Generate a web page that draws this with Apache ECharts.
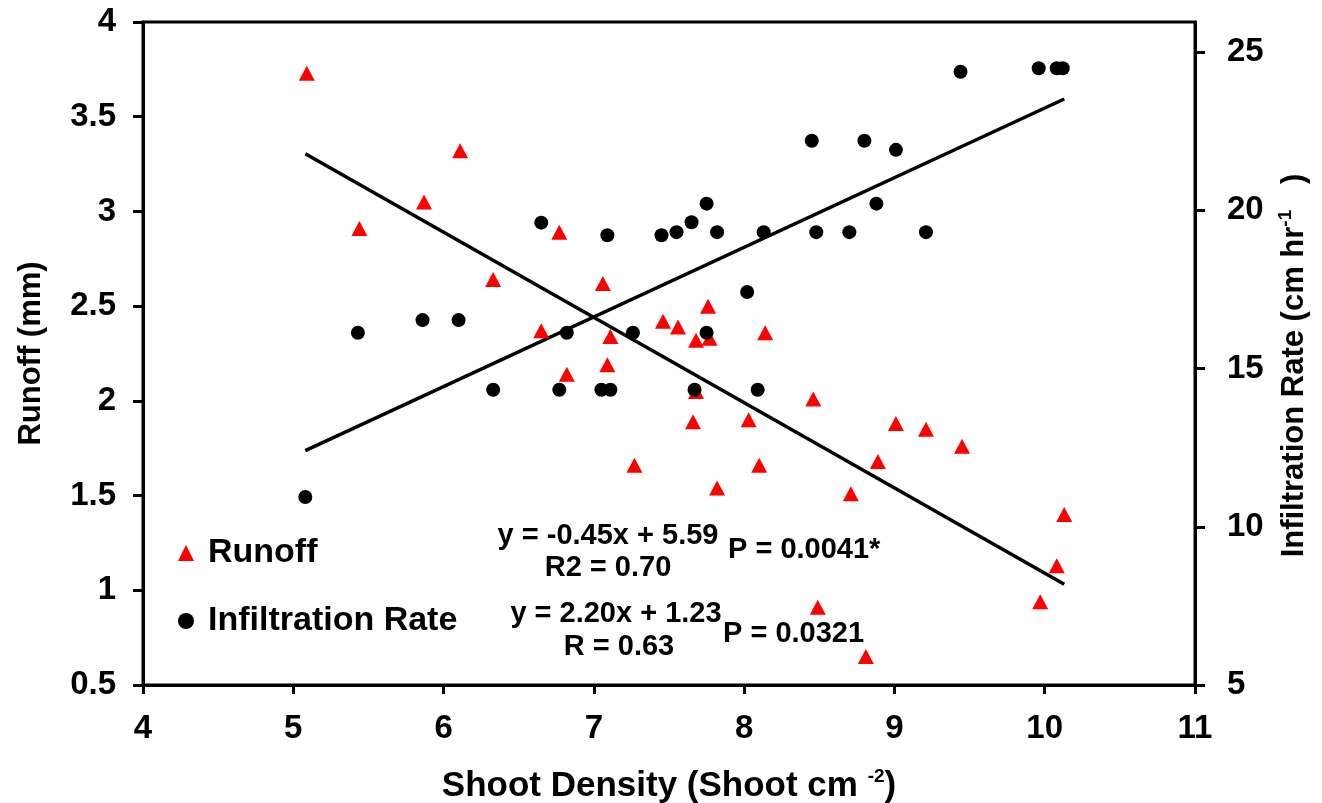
<!DOCTYPE html>
<html>
<head>
<meta charset="utf-8">
<script src="https://cdn.jsdelivr.net/npm/echarts@6/dist/echarts.min.js"></script>
<style>
  html, body { margin: 0; padding: 0; background: #fff; }
  #chart { width: 1322px; height: 803px; }
</style>
</head>
<body>
<div id="chart"></div>
<script>
// Shoot density (shoot cm^-2) and runoff (mm) per plot
const runoffDensity = [5.09, 5.44, 5.87, 6.11, 6.33, 6.65, 6.77, 6.82, 7.06, 7.09, 7.11, 7.27,
  7.46, 7.56, 7.66, 7.68, 7.68, 7.76, 7.77, 7.82, 8.03, 8.10, 8.14, 8.46, 8.49, 8.71,
  8.81, 8.89, 9.01, 9.21, 9.45, 9.97, 10.08, 10.13];
const runoffValues = [3.73, 2.91, 3.05, 3.32, 2.64, 2.37, 2.89, 2.14, 2.62, 2.19, 2.34, 1.66,
  2.42, 2.39, 1.89, 2.32, 2.05, 2.50, 2.33, 1.54, 1.90, 1.66, 2.36, 2.01, 0.91, 1.51,
  0.65, 1.68, 1.88, 1.85, 1.76, 0.94, 1.13, 1.40];

// Shoot density (shoot cm^-2) and infiltration rate (cm hr^-1) per plot
const infilDensity = [5.08, 5.43, 5.86, 6.10, 6.33, 6.65, 6.77, 6.82, 7.05, 7.09, 7.11, 7.26,
  7.45, 7.55, 7.65, 7.67, 7.75, 7.75, 7.82, 8.02, 8.09, 8.13, 8.45, 8.48, 8.70, 8.80,
  8.88, 9.01, 9.21, 9.44, 9.96, 10.08, 10.12];
const infilValues = [10.94, 16.13, 16.53, 16.53, 14.33, 19.61, 14.33, 16.13, 14.33, 19.21, 14.33, 16.13,
  19.21, 19.31, 19.62, 14.33, 20.21, 16.13, 19.31, 17.42, 14.33, 19.31, 22.20, 19.31, 19.31, 22.20,
  20.21, 21.91, 19.31, 24.38, 24.49, 24.49, 24.49];

// Fitted regression lines (slope, intercept)
const runoffFit = [-0.45, 5.59];
const infilFit = [2.20, 1.23];

// Tick values
const densityTicks = [4, 5, 6, 7, 8, 9, 10, 11];
const runoffTicks = [0.5, 1, 1.5, 2, 2.5, 3, 3.5, 4];
const infilTicks = [5, 10, 15, 20, 25];

// Annotation texts
const runoffStats = ['y = -0.45x + 5.59', 'R2 = 0.70', 'P = 0.0041*'];
const infilStats = ['y = 2.20x + 1.23', 'R = 0.63', 'P = 0.0321'];

const FONT = '"Liberation Sans", Arial, Helvetica, sans-serif';

const allDensity = runoffDensity.concat(infilDensity);
const xLo = Math.min.apply(null, allDensity);
const xHi = Math.max.apply(null, allDensity);
const fitLine = (f) => [[xLo, f[0] * xLo + f[1]], [xHi, f[0] * xHi + f[1]]];

const zip = (a, b) => a.map((v, i) => [v, b[i]]);

const axisCommon = {
  type: 'value',
  nameMoveOverlap: false,
  axisLine: { show: true, onZero: false, lineStyle: { color: '#000', width: 3 } },
  axisTick: { show: true, inside: false, length: 10, lineStyle: { color: '#000', width: 3 } },
  splitLine: { show: false },
  nameLocation: 'middle',
  nameTextStyle: {
    color: '#000', fontWeight: 'bold', fontFamily: FONT,
    rich: { sup: { fontSize: 19, fontWeight: 'bold', fontFamily: FONT, color: '#000', verticalAlign: 'top', lineHeight: 20 } }
  }
};

const labelStyle = { color: '#000', fontWeight: 'bold', fontFamily: FONT, fontSize: 33 };

const chart = echarts.init(document.getElementById('chart'), null, { renderer: 'canvas' });

chart.setOption({
  animation: false,
  backgroundColor: '#fff',
  grid: {
    left: 143, right: 127, top: 22, bottom: 118,
    show: true, borderColor: '#000', borderWidth: 3,
    outerBoundsMode: 'none'
  },
  xAxis: Object.assign({}, axisCommon, {
    min: 4, max: 11, interval: 1, position: 'bottom',
    axisTick: Object.assign({}, axisCommon.axisTick, { length: 9, customValues: densityTicks }),
    axisLabel: Object.assign({}, labelStyle, { margin: 27, customValues: densityTicks }),
    name: 'Shoot Density (Shoot cm {sup|-2})',
    nameGap: 82,
    nameTextStyle: Object.assign({}, axisCommon.nameTextStyle, { fontSize: 35, lineHeight: 38 })
  }),
  yAxis: [
    Object.assign({}, axisCommon, {
      min: 0.5, max: 4, interval: 0.5, position: 'left',
      axisTick: Object.assign({}, axisCommon.axisTick, { customValues: runoffTicks }),
      axisLabel: Object.assign({}, labelStyle, { margin: 27, customValues: runoffTicks }),
      name: 'Runoff (mm)',
      nameGap: 96,
      nameTextStyle: Object.assign({}, axisCommon.nameTextStyle, { fontSize: 31 })
    }),
    Object.assign({}, axisCommon, {
      min: 5, max: 25.95, position: 'right',
      axisTick: Object.assign({}, axisCommon.axisTick, { customValues: infilTicks }),
      axisLabel: Object.assign({}, labelStyle, { margin: 32, customValues: infilTicks }),
      name: 'Infiltration Rate (cm hr{sup|-1}   )',
      nameGap: 81,
      nameTextStyle: Object.assign({}, axisCommon.nameTextStyle, { fontSize: 31, lineHeight: 36, padding: [0, 24, 0, 0] })
    })
  ],
  legend: {
    orient: 'vertical',
    left: 173, top: 531,
    itemWidth: 16, itemHeight: 16,
    itemGap: 34,
    textStyle: { color: '#000', fontWeight: 'bold', fontFamily: FONT, fontSize: 34, padding: [0, 0, 0, 9] },
    data: [
      { name: 'Runoff', icon: 'triangle' },
      { name: 'Infiltration Rate', icon: 'circle' }
    ]
  },
  graphic: [
    { type: 'text', x: 608, y: 536, style: { text: runoffStats[0], align: 'center', verticalAlign: 'middle', font: 'bold 29px ' + FONT, fill: '#000' } },
    { type: 'text', x: 608, y: 568, style: { text: runoffStats[1], align: 'center', verticalAlign: 'middle', font: 'bold 29px ' + FONT, fill: '#000' } },
    { type: 'text', x: 728, y: 550, style: { text: runoffStats[2], align: 'left', verticalAlign: 'middle', font: 'bold 29px ' + FONT, fill: '#000' } },
    { type: 'text', x: 616, y: 614, style: { text: infilStats[0], align: 'center', verticalAlign: 'middle', font: 'bold 29px ' + FONT, fill: '#000' } },
    { type: 'text', x: 619, y: 647, style: { text: infilStats[1], align: 'center', verticalAlign: 'middle', font: 'bold 29px ' + FONT, fill: '#000' } },
    { type: 'text', x: 723, y: 634, style: { text: infilStats[2], align: 'left', verticalAlign: 'middle', font: 'bold 29px ' + FONT, fill: '#000' } }
  ],
  series: [
    {
      name: 'Runoff fit', type: 'line', yAxisIndex: 0, data: fitLine(runoffFit),
      symbol: 'none', silent: true, lineStyle: { color: '#000', width: 3.5 }, z: 2
    },
    {
      name: 'Infiltration fit', type: 'line', yAxisIndex: 1, data: fitLine(infilFit),
      symbol: 'none', silent: true, lineStyle: { color: '#000', width: 3.5 }, z: 2
    },
    {
      name: 'Runoff', type: 'scatter', yAxisIndex: 0, data: zip(runoffDensity, runoffValues),
      symbol: 'triangle', symbolSize: [16, 15], itemStyle: { color: '#ff0000', opacity: 1 }, z: 3
    },
    {
      name: 'Infiltration Rate', type: 'scatter', yAxisIndex: 1, data: zip(infilDensity, infilValues),
      symbol: 'circle', symbolSize: 14, itemStyle: { color: '#000', opacity: 1 }, z: 4
    }
  ]
});
</script>
</body>
</html>
